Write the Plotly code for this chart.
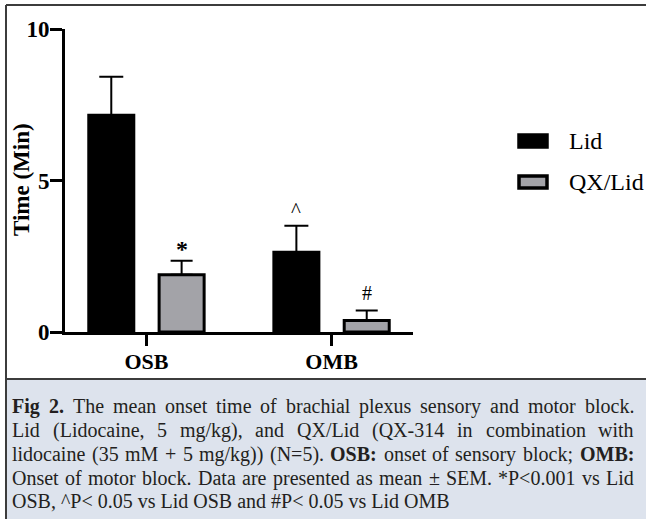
import plotly.graph_objects as go

# ---------------- data ----------------
categories = ["OSB", "OMB"]
lid_mean = [7.15, 2.63]
lid_sem = [1.27, 0.88]
qx_mean = [1.89, 0.38]
qx_sem = [0.46, 0.33]
series_names = ["Lid", "QX/Lid"]
y_ticks = [0, 5, 10]
# significance marks: (category index, series index, symbol)
sig_marks = [(0, 1, "*"), (1, 0, "^"), (1, 1, "#")]

caption_lines = [
    [("Fig", True), ("2.", True), ("The", False), ("mean", False), ("onset", False), ("time", False),
     ("of", False), ("brachial", False), ("plexus", False), ("sensory", False), ("and", False),
     ("motor", False), ("block.", False)],
    [("Lid", False), ("(Lidocaine,", False), ("5", False), ("mg/kg),", False), ("and", False),
     ("QX/Lid", False), ("(QX-314", False), ("in", False), ("combination", False), ("with", False)],
    [("lidocaine", False), ("(35", False), ("mM", False), ("+", False), ("5", False), ("mg/kg))", False),
     ("(N=5).", False), ("OSB:", True), ("onset", False), ("of", False), ("sensory", False),
     ("block;", False), ("OMB:", True)],
    [("Onset", False), ("of", False), ("motor", False), ("block.", False), ("Data", False), ("are", False),
     ("presented", False), ("as", False), ("mean", False), ("±", False), ("SEM.", False),
     ("*P<0.001", False), ("vs", False), ("Lid", False)],
]
caption_last = "OSB, ^P< 0.05 vs Lid OSB and #P< 0.05 vs Lid OMB"

# ---------------- geometry / style ----------------
W, H = 646, 519
PL, PR, PT, PB = 65, 413, 29, 332          # plot area in px
SERIF = "Liberation Serif"
bargap, bargroupgap = 0.24, 0.36
xrange_ = [-0.44, 1.44]


def px(x):
    return (x - PL) / (PR - PL)


def py(y):
    return (PB - y) / (PB - PT)


fig = go.Figure()
fig.add_trace(go.Bar(
    x=categories, y=lid_mean, name=series_names[0],
    marker=dict(color="black", line=dict(color="black", width=3)),
    error_y=dict(type="data", symmetric=False, array=lid_sem, arrayminus=[0] * len(lid_sem),
                 color="black", thickness=2, width=12),
))
fig.add_trace(go.Bar(
    x=categories, y=qx_mean, name=series_names[1],
    marker=dict(color="#a3a3a8", line=dict(color="black", width=3)),
    error_y=dict(type="data", symmetric=False, array=qx_sem, arrayminus=[0] * len(qx_sem),
                 color="black", thickness=2, width=11),
))

# significance symbols above error bars
px_per_cat = (PR - PL) / (xrange_[1] - xrange_[0])
slot = (1 - bargap) / 2
means = [lid_mean, qx_mean]
sems = [lid_sem, qx_sem]
sym_style = {"*": dict(size=24, weight="bold", yshift=-3),
             "^": dict(size=21, weight="normal", yshift=2),
             "#": dict(size=20, weight="normal", yshift=4)}
for ci, si, sym in sig_marks:
    st = sym_style[sym]
    fig.add_annotation(
        x=categories[ci], y=means[si][ci] + sems[si][ci],
        xshift=(si - 0.5) * slot * px_per_cat, yshift=st["yshift"],
        text=sym, showarrow=False, yanchor="bottom",
        font=dict(family=SERIF, size=st["size"], color="black", weight=st["weight"]),
    )

# axis title
fig.add_annotation(
    x=px(21), y=py(179), xref="paper", yref="paper", text="Time (Min)", textangle=-90,
    showarrow=False, xanchor="center", yanchor="middle",
    font=dict(family=SERIF, size=23, color="black", weight="bold"),
)

shapes = []
# caption background
shapes.append(dict(type="rect", xref="paper", yref="paper", x0=px(6), x1=px(W + 5), y0=py(379), y1=py(H + 5),
                   fillcolor="#dde3ed", line=dict(width=0), layer="below"))
# frame lines
frame = dict(color="#3c3c3c", width=2)
shapes.append(dict(type="line", xref="paper", yref="paper", x0=px(6), x1=px(W + 5), y0=py(5), y1=py(5), line=frame))
shapes.append(dict(type="line", xref="paper", yref="paper", x0=px(6), x1=px(6), y0=py(5), y1=py(H + 5), line=frame))
shapes.append(dict(type="line", xref="paper", yref="paper", x0=px(6), x1=px(W + 5), y0=py(379), y1=py(379), line=frame))

# custom legend
leg_fill = ["black", "#a3a3a8"]
leg_y = [141, 182]
for name, fc, cy in zip(series_names, leg_fill, leg_y):
    shapes.append(dict(type="rect", xref="paper", yref="paper", x0=px(519), x1=px(547),
                       y0=py(cy - 6), y1=py(cy + 6), fillcolor=fc, line=dict(color="black", width=3.5)))
    fig.add_annotation(x=px(567), y=py(cy), xref="paper", yref="paper", text=name, showarrow=False,
                       xanchor="left", yanchor="middle",
                       font=dict(family=SERIF, size=24, color="black"))

# caption text (justified via per-word placement)
REG = {' ': 250, '!': 333, '#': 500, '(': 333, ')': 333, '*': 500, '+': 564, ',': 250, '-': 333,
       '.': 250, '/': 278, ':': 278, ';': 278, '<': 564, '=': 564, '^': 469, '±': 549,
       'A': 722, 'B': 667, 'C': 667, 'D': 722, 'E': 611, 'F': 556, 'G': 722, 'H': 722, 'I': 333,
       'J': 389, 'K': 722, 'L': 611, 'M': 889, 'N': 722, 'O': 722, 'P': 556, 'Q': 722, 'R': 667,
       'S': 556, 'T': 611, 'U': 722, 'V': 722, 'W': 944, 'X': 722, 'Y': 722, 'Z': 611,
       'a': 444, 'b': 500, 'c': 444, 'd': 500, 'e': 444, 'f': 333, 'g': 500, 'h': 500, 'i': 278,
       'j': 278, 'k': 500, 'l': 278, 'm': 778, 'n': 500, 'o': 500, 'p': 500, 'q': 500, 'r': 333,
       's': 389, 't': 278, 'u': 500, 'v': 500, 'w': 722, 'x': 500, 'y': 500, 'z': 444}
BOLD = dict(REG)
BOLD.update({'F': 611, 'O': 778, 'S': 556, 'B': 667, 'M': 944, ':': 333, 'g': 500, 'i': 278})
for d in '0123456789':
    REG[d] = 500
    BOLD[d] = 500

CAP_FS = 20
CAP_COLOR = "#231f20"
CAP_X0, CAP_X1 = 12, 634
line_y = [406, 430, 454, 478, 501]


def wwidth(word, bold):
    tbl = BOLD if bold else REG
    return sum(tbl.get(c, 500) for c in word) * CAP_FS / 1000


for words, cy in zip(caption_lines, line_y):
    widths = [wwidth(w, b) for w, b in words]
    gap = (CAP_X1 - CAP_X0 - sum(widths)) / (len(words) - 1)
    x = CAP_X0
    for i, ((w, b), wd) in enumerate(zip(words, widths)):
        last = i == len(words) - 1
        fig.add_annotation(
            x=px(CAP_X1 if last else x), y=py(cy), xref="paper", yref="paper",
            text=f"<b>{w}</b>" if b else w, showarrow=False,
            xanchor="right" if last else "left", yanchor="middle", borderpad=0, borderwidth=0,
            font=dict(family=SERIF, size=CAP_FS, color=CAP_COLOR),
        )
        x += wd + gap
fig.add_annotation(
    x=px(CAP_X0), y=py(line_y[4]), xref="paper", yref="paper", text=caption_last, showarrow=False,
    xanchor="left", yanchor="middle", borderpad=0, borderwidth=0,
    font=dict(family=SERIF, size=CAP_FS, color=CAP_COLOR),
)

fig.update_layout(
    width=W, height=H,
    margin=dict(l=PL, r=W - PR, t=PT, b=H - PB),
    plot_bgcolor="white", paper_bgcolor="white",
    barmode="group", bargap=bargap, bargroupgap=bargroupgap,
    showlegend=False, shapes=shapes,
    xaxis=dict(type="category", range=xrange_, showline=True, linecolor="black", linewidth=3,
               ticks="outside", ticklen=11, tickwidth=3, tickcolor="black", showgrid=False,
               ticklabelstandoff=-3,
               tickfont=dict(family=SERIF, size=22, color="black", weight="bold")),
    yaxis=dict(range=[0, 10], tickvals=y_ticks, showline=True, linecolor="black", linewidth=3,
               ticks="outside", ticklen=12, tickwidth=3, tickcolor="black", showgrid=False,
               zeroline=False, ticklabelstandoff=-4,
               tickfont=dict(family=SERIF, size=23, color="black", weight="bold")),
)

fig.write_html(
    "out.html",
    config={"displayModeBar": False},
    post_script="document.body.style.margin='0';document.body.style.overflow='hidden';",
)
